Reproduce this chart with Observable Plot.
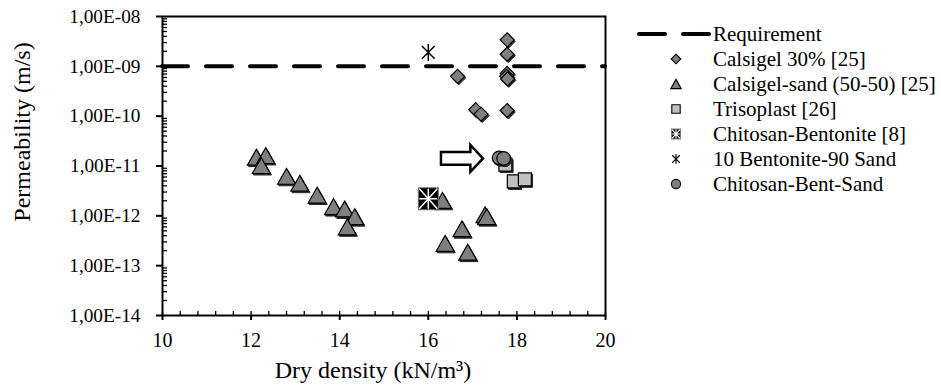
<!DOCTYPE html>
<html><head><meta charset="utf-8">
<script src="https://cdn.jsdelivr.net/npm/d3@7"></script>
<script src="https://cdn.jsdelivr.net/npm/@observablehq/plot@0.6"></script>
<style>
body{margin:0;background:#fff;}
#wrap{position:relative;width:941px;height:385px;}
#wrap svg{display:block;}
#legend{position:absolute;left:0;top:0;pointer-events:none;}
</style></head><body><div id="wrap"></div>
<script>
// ---- data ----
const requirementK = [1e-9];

const calsigelX = [17.78, 17.78, 17.78, 17.77, 17.79, 16.66, 17.07, 17.19, 17.78];
const calsigelK = [3.4e-9, 1.75e-9, 7.2e-10, 6.3e-10, 5.6e-10, 6.3e-10, 1.35e-10, 1.1e-10, 1.3e-10];

const sandX = [12.12, 12.33, 12.23, 12.80, 13.10, 13.49, 13.86, 14.11, 14.34, 14.17, 16.32, 17.28, 17.32, 16.76, 16.38, 16.89];
const sandK = [1.5e-11, 1.62e-11, 1.02e-11, 6.2e-12, 4.5e-12, 2.6e-12, 1.53e-12, 1.37e-12, 9.6e-13, 6.0e-13, 2.04e-12, 1.05e-12, 9.6e-13, 5.5e-13, 2.8e-13, 1.86e-13];

const trisoX = [17.74, 17.93, 18.18];
const trisoK = [1.07e-11, 4.9e-12, 5.4e-12];

const chitBentX = [16.0];
const chitBentK = [2.2e-12];

const bentSandX = [16.0];
const bentSandK = [1.9e-9];

const chitSandX = [17.6, 17.7];
const chitSandK = [1.45e-11, 1.42e-11];

const arrowX = [16.76];
const arrowK = [1.42e-11];

const xTicks = [10, 12, 14, 16, 18, 20];
const yTicks = [1e-14, 1e-13, 1e-12, 1e-11, 1e-10, 1e-9, 1e-8];
const yTickLabels = ["1,00E-14", "1,00E-13", "1,00E-12", "1,00E-11", "1,00E-10", "1,00E-09", "1,00E-08"];
const legendLabels = ["Requirement", "Calsigel 30% [25]", "Calsigel-sand (50-50) [25]", "Trisoplast [26]", "Chitosan-Bentonite [8]", "10 Bentonite-90 Sand", "Chitosan-Bent-Sand"];

const xMinor = d3.range(10, 20.01, 0.4).map(v => +v.toFixed(1));
const yMinor = yTicks.slice(0, -1).flatMap(d => d3.range(2, 10).map(k => k * d));

const pts = (X, K) => X.map((x, i) => ({x, k: K[i]}));

// ---- custom symbols ----
function sym(fn) { return {draw(c, size) { const r = Math.sqrt(size / Math.PI); fn(c, r); }}; }
const diamond = sym((c, r) => { c.moveTo(0, -r); c.lineTo(r, 0); c.lineTo(0, r); c.lineTo(-r, 0); c.closePath(); });
const triangle = sym((c, r) => { const w = r * 1.25, h = r * 1.1; c.moveTo(0, -h); c.lineTo(w, h); c.lineTo(-w, h); c.closePath(); });
const square = sym((c, r) => { c.rect(-r, -r, 2 * r, 2 * r); });
const circle = sym((c, r) => { c.moveTo(r, 0); c.arc(0, 0, r, 0, 2 * Math.PI); });
const star6 = sym((c, r) => { const a = r * 0.75; c.moveTo(0, -r); c.lineTo(0, r); c.moveTo(-a, -a); c.lineTo(a, a); c.moveTo(-a, a); c.lineTo(a, -a); });
const boxSym = sym((c, r) => { const h = r * 1.1; c.rect(-r, -h, 2 * r, 2 * h); });
const star8 = sym((c, r) => { const h = r * 1.1; c.moveTo(0, -h); c.lineTo(0, h); c.moveTo(-r, 0); c.lineTo(r, 0); c.moveTo(-r, -h); c.lineTo(r, h); c.moveTo(-r, h); c.lineTo(r, -h); });
const arrowSym = sym((c, r) => {
  const hh = r * 0.64, sh = r * 0.3, hl = r * 0.6;
  c.moveTo(-r, -sh); c.lineTo(r - hl, -sh); c.lineTo(r - hl, -hh); c.lineTo(r, 0);
  c.lineTo(r - hl, hh); c.lineTo(r - hl, sh); c.lineTo(-r, sh); c.closePath();
});

const GRAY = "#7f7f7f", LGRAY = "#c0c0c0", SHADOW = "#2a2a2a";
const FONT = "Liberation Serif";

const shadowDot = (data, symbol, r) => Plot.dot(data, {x: "x", y: "k", symbol, r, fill: SHADOW, stroke: SHADOW, strokeWidth: 1, dx: 1.2, dy: 1.5});

const chart = Plot.plot({
  width: 941, height: 385,
  marginLeft: 162, marginRight: 336, marginTop: 16, marginBottom: 70,
  style: {color: "black", background: "white", overflow: "visible"},
  x: {domain: [10, 20], axis: null},
  y: {type: "log", domain: [1e-14, 1e-8], axis: null},
  marks: [
    Plot.ruleY(requirementK, {stroke: "black", strokeWidth: 4, strokeDasharray: "26,18", strokeLinecap: "round"}),
    // Calsigel 30%
    shadowDot(pts(calsigelX, calsigelK), diamond, 7),
    Plot.dot(pts(calsigelX, calsigelK), {x: "x", y: "k", symbol: diamond, r: 7, fill: GRAY, stroke: "black", strokeWidth: 1.2}),
    // Calsigel-sand
    shadowDot(pts(sandX, sandK), triangle, 7.2),
    Plot.dot(pts(sandX, sandK), {x: "x", y: "k", symbol: triangle, r: 7.2, fill: GRAY, stroke: "black", strokeWidth: 1.2}),
    // Trisoplast
    shadowDot(pts(trisoX, trisoK), square, 6.5),
    Plot.dot(pts(trisoX, trisoK), {x: "x", y: "k", symbol: square, r: 6.5, fill: LGRAY, stroke: "black", strokeWidth: 1.2}),
    // Chitosan-Bentonite
    Plot.dot(pts(chitBentX, chitBentK), {x: "x", y: "k", symbol: boxSym, r: 10, fill: "black", stroke: "#777", strokeWidth: 1}),
    Plot.dot(pts(chitBentX, chitBentK), {x: "x", y: "k", symbol: star8, r: 9, fill: "none", stroke: "white", strokeWidth: 1.5}),
    // 10 Bentonite-90 Sand
    Plot.dot(pts(bentSandX, bentSandK), {x: "x", y: "k", symbol: star6, r: 8.5, fill: "none", stroke: "black", strokeWidth: 1.5}),
    // Chitosan-Bent-Sand
    shadowDot(pts(chitSandX, chitSandK), circle, 6.8),
    Plot.dot(pts(chitSandX, chitSandK), {x: "x", y: "k", symbol: circle, r: 6.8, fill: GRAY, stroke: "black", strokeWidth: 1.2}),
    // arrow annotation
    Plot.dot(pts(arrowX, arrowK), {x: "x", y: "k", symbol: arrowSym, r: 21, fill: "white", stroke: "black", strokeWidth: 2.5, strokeLinejoin: "miter"}),
    Plot.frame({stroke: "black", strokeWidth: 2}),
    // axes
    Plot.axisY(yTicks, {anchor: "left", tickSize: 6, tickPadding: 16, strokeWidth: 2, fontSize: 19.3, fontFamily: FONT,
      tickFormat: d => yTickLabels[yTicks.indexOf(d)], label: null}),
    Plot.axisY(yMinor, {anchor: "left", tickSize: 5, dx: 5, strokeWidth: 1.3, fill: "none", label: null}),
    Plot.axisX(xTicks, {anchor: "bottom", tickSize: 5, tickPadding: 12, strokeWidth: 2, fontSize: 20, fontFamily: FONT, label: null}),
    Plot.axisX(xMinor, {anchor: "bottom", tickSize: 4, dy: -4, strokeWidth: 1.3, fill: "none", label: null}),
    Plot.text(["Permeability (m/s)"], {frameAnchor: "left", rotate: -90, dx: -140, dy: -34, fontSize: 24, fontFamily: FONT, textAnchor: "middle", lineAnchor: "middle"}),
    Plot.text(["Dry density (kN/m³)"], {frameAnchor: "bottom", dx: -11, dy: 55, fontSize: 24, fontFamily: FONT, textAnchor: "middle", lineAnchor: "middle"})
  ]
});

const wrap = document.getElementById("wrap");
wrap.appendChild(chart);

// ---- legend ----
const lg = d3.select(wrap).append("svg").attr("id", "legend").attr("width", 941).attr("height", 385);
const rowY = i => 34 + 25 * i;
const mx = 676, tx = 713;
lg.append("line").attr("x1", 639).attr("x2", 711).attr("y1", rowY(0)).attr("y2", rowY(0))
  .attr("stroke", "black").attr("stroke-width", 4).attr("stroke-dasharray", "26,18").attr("stroke-linecap", "round");
const legendSyms = [
  null,
  [{type: diamond, r: 4.8, fill: GRAY, stroke: "black"}],
  [{type: triangle, r: 4.2, fill: GRAY, stroke: "black"}],
  [{type: square, r: 4.2, fill: LGRAY, stroke: "black"}],
  [{type: boxSym, r: 4.5, fill: "black", stroke: "#777"}, {type: star8, r: 4, fill: "none", stroke: "white"}],
  [{type: star6, r: 5, fill: "none", stroke: "black"}],
  [{type: circle, r: 4.6, fill: GRAY, stroke: "black"}]
];
legendLabels.forEach((lab, i) => {
  (legendSyms[i] || []).forEach(s => {
    lg.append("path").attr("transform", `translate(${mx},${rowY(i)})`)
      .attr("d", d3.symbol().type(s.type).size(Math.PI * s.r * s.r)())
      .attr("fill", s.fill).attr("stroke", s.stroke).attr("stroke-width", 1.1);
  });
  lg.append("text").attr("x", tx).attr("y", rowY(i)).attr("dy", "0.34em").attr("fill", "black")
    .attr("font-family", FONT).attr("font-size", 21).text(lab);
});
</script></body></html>
